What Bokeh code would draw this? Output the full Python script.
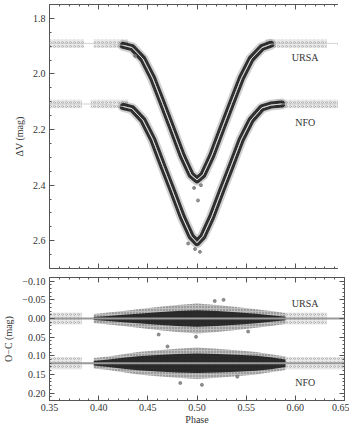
from bokeh.plotting import figure
from bokeh.layouts import column
from bokeh.models import (LinearAxis, FixedTicker, CustomJSTickFormatter, Label, Range1d,
                          CustomLabelingPolicy)
from bokeh.embed import file_html
from bokeh.resources import INLINE

# ---------------- data ----------------
phase_model = [0.350, 0.400, 0.414, 0.425, 0.434, 0.445, 0.455, 0.465, 0.475, 0.485,
               0.494, 0.500, 0.506, 0.515, 0.525, 0.535, 0.545, 0.555, 0.566, 0.575,
               0.586, 0.600, 0.650]
ursa_model = [1.890, 1.890, 1.893, 1.897, 1.905, 1.946, 2.016, 2.107, 2.200, 2.294,
              2.363, 2.381, 2.363, 2.294, 2.200, 2.107, 2.016, 1.946, 1.905, 1.893,
              1.890, 1.890, 1.890]
nfo_model = [2.108, 2.108, 2.112, 2.117, 2.125, 2.166, 2.236, 2.329, 2.420, 2.514,
             2.584, 2.607, 2.584, 2.514, 2.420, 2.329, 2.236, 2.166, 2.122, 2.112,
             2.108, 2.108, 2.108]
ursa_base = 1.891
nfo_base = 2.108
# dense-data index span along the model grid
ursa_dense = (3, 19)
nfo_dense = (3, 20)
# sparse (wing) data ranges in phase
ursa_wing_left = [0.350, 0.395, 0.570]
ursa_wing_right = [0.385, 0.430, 0.632]
nfo_wing_left = [0.350, 0.392, 0.580]
nfo_wing_right = [0.383, 0.430, 0.650]
# a few obvious outliers
ursa_out_x = [0.497, 0.501, 0.504, 0.437, 0.645]
ursa_out_y = [2.410, 2.455, 2.400, 1.935, 1.895]
nfo_out_x = [0.498, 0.503, 0.491]
nfo_out_y = [2.630, 2.640, 2.610]

# residuals (O-C) envelopes
res_phase = [0.395, 0.410, 0.425, 0.440, 0.460, 0.480, 0.500, 0.520, 0.540, 0.560, 0.575, 0.590]
ursa_core = [0.004, 0.007, 0.010, 0.013, 0.017, 0.020, 0.022, 0.020, 0.017, 0.013, 0.009, 0.005]
ursa_halo = [0.012, 0.016, 0.020, 0.025, 0.031, 0.036, 0.040, 0.036, 0.031, 0.025, 0.020, 0.015]
nfo_core = [0.006, 0.010, 0.015, 0.019, 0.022, 0.025, 0.026, 0.025, 0.023, 0.020, 0.016, 0.010]
nfo_halo = [0.014, 0.018, 0.024, 0.030, 0.035, 0.039, 0.042, 0.039, 0.035, 0.030, 0.024, 0.018]
ursa_res_base = 0.0
nfo_res_base = 0.12
res_ursa_wing_left = [0.350, 0.590]
res_ursa_wing_right = [0.383, 0.632]
res_nfo_wing_left = [0.350, 0.590]
res_nfo_wing_right = [0.383, 0.650]
res_out_x = [0.499, 0.461, 0.483, 0.552, 0.518, 0.541, 0.505, 0.470, 0.527]
res_out_y = [0.049, 0.043, 0.173, 0.035, -0.047, 0.156, 0.178, 0.075, -0.050]

x_major = [0.35, 0.40, 0.45, 0.50, 0.55, 0.60, 0.65]
x_minor = [round(0.35 + 0.01 * i, 2) for i in range(31)]
top_y_major = [1.8, 2.0, 2.2, 2.4, 2.6]
top_y_minor = [round(1.75 + 0.05 * i, 2) for i in range(20)]
bot_y_major = [-0.10, -0.05, 0.00, 0.05, 0.10, 0.15, 0.20]
bot_y_minor = [round(-0.11 + 0.01 * i, 2) for i in range(34)]

FONT = "Liberation Serif"
FS = "10px"
FRAME = "#555555"


def fmt(dec):
    return CustomJSTickFormatter(code=f"""
        const s = Math.abs(tick).toFixed({dec});
        return (tick < -1e-9 ? '\\u2212' : '') + s;""")


def no_labels():
    return CustomLabelingPolicy(code="""
        for (const i of indices) { indices.unset(i) }
        return indices""")


def style_axes(p, xticks, xminor, yticks, yminor, ydec, show_x):
    p.add_layout(LinearAxis(), "above")
    p.add_layout(LinearAxis(), "right")
    for ax in p.below + p.above:
        ax.ticker = FixedTicker(ticks=xticks, minor_ticks=xminor)
    for ax in p.left + p.right:
        ax.ticker = FixedTicker(ticks=yticks, minor_ticks=yminor)
    for ax in p.below + p.above + p.left + p.right:
        ax.axis_line_color = None
        ax.major_tick_in = 5
        ax.major_tick_out = 0
        ax.minor_tick_in = 2
        ax.minor_tick_out = 0
        ax.major_tick_line_color = FRAME
        ax.minor_tick_line_color = FRAME
        ax.major_label_text_font = FONT
        ax.major_label_text_font_size = FS
        ax.major_label_text_color = "#333333"
        ax.axis_label_text_font = FONT
        ax.axis_label_text_font_size = FS
        ax.axis_label_text_font_style = "normal"
        ax.axis_label_text_color = "#333333"
    p.left[0].formatter = fmt(ydec)
    p.left[0].major_label_standoff = 4
    p.below[0].formatter = fmt(2)
    p.below[0].major_label_standoff = 3
    hidden = [p.above[0], p.right[0]]
    if not show_x:
        hidden.append(p.below[0])
    for ax in hidden:
        ax.major_label_policy = no_labels()
        ax.major_label_text_font_size = "1px"
        ax.major_label_standoff = 0
    p.grid.visible = False
    p.outline_line_color = FRAME
    p.outline_line_width = 1
    p.background_fill_color = "white"
    p.border_fill_color = "white"


def wings(p, wl, wr, base, half):
    p.quad(left=wl, right=wr, bottom=[base + half] * len(wl), top=[base - half] * len(wl),
           fill_color="#b4b4b4", fill_alpha=0.3, line_color=None,
           hatch_pattern="ring", hatch_color="#9a9a9a", hatch_scale=4, hatch_weight=0.9,
           hatch_alpha=0.6)


# ---------------- top panel ----------------
top = figure(frame_width=295, frame_height=264, output_backend="svg", toolbar_location=None,
             x_range=Range1d(0.35, 0.65), y_range=Range1d(2.70, 1.75),
             min_border_left=39, min_border_right=3, min_border_top=0, min_border_bottom=0)
style_axes(top, x_major, x_minor, top_y_major, top_y_minor, 1, False)
top.left[0].axis_label = "\u0394V (mag)"

wings(top, ursa_wing_left, ursa_wing_right, ursa_base, 0.015)
wings(top, nfo_wing_left, nfo_wing_right, nfo_base, 0.015)

for model, (i0, i1) in [(ursa_model, ursa_dense), (nfo_model, nfo_dense)]:
    xs = phase_model[i0:i1 + 1]
    ys = model[i0:i1 + 1]
    top.line(xs, ys, line_width=11, line_color="#666666", line_alpha=0.3,
             line_join="round", line_cap="round")
    top.line(xs, ys, line_width=7, line_color="#1e1e1e", line_alpha=0.9,
             line_join="round", line_cap="round")

top.line(phase_model, ursa_model, line_width=0.8, line_color="#c8c8c8", line_join="round")
top.line(phase_model, nfo_model, line_width=0.8, line_color="#c8c8c8", line_join="round")
top.line(phase_model[ursa_dense[0]:ursa_dense[1] + 1], ursa_model[ursa_dense[0]:ursa_dense[1] + 1],
         line_width=0.9, line_color="#e0e0e0", line_join="round")
top.line(phase_model[nfo_dense[0]:nfo_dense[1] + 1], nfo_model[nfo_dense[0]:nfo_dense[1] + 1],
         line_width=0.9, line_color="#e0e0e0", line_join="round")

top.scatter(ursa_out_x, ursa_out_y, size=3, color="#777777", alpha=0.8)
top.scatter(nfo_out_x, nfo_out_y, size=3, color="#777777", alpha=0.8)

for txt, xv, yv in [("URSA", 0.610, 1.940), ("NFO", 0.610, 2.173)]:
    top.add_layout(Label(x=xv, y=yv, text=txt, text_align="center", text_baseline="middle",
                         text_font=FONT, text_font_size=FS, text_color="#333333"))

# ---------------- bottom panel ----------------
bot = figure(frame_width=295, frame_height=123, output_backend="svg", toolbar_location=None,
             x_range=Range1d(0.35, 0.65), y_range=Range1d(0.22, -0.11),
             min_border_left=39, min_border_right=3, min_border_top=5, min_border_bottom=0)
style_axes(bot, x_major, x_minor, bot_y_major, bot_y_minor, 2, True)
bot.left[0].axis_label = "O\u2212C (mag)"
bot.below[0].axis_label = "Phase"
bot.below[0].axis_label_standoff = 0

wings(bot, res_ursa_wing_left, res_ursa_wing_right, ursa_res_base, 0.016)
wings(bot, res_nfo_wing_left, res_nfo_wing_right, nfo_res_base, 0.016)

for base, core, halo in [(ursa_res_base, ursa_core, ursa_halo), (nfo_res_base, nfo_core, nfo_halo)]:
    bot.varea(x=res_phase, y1=[base - h for h in halo], y2=[base + h for h in halo],
              fill_color="#6e6e6e", fill_alpha=0.45,
              hatch_pattern="dot", hatch_color="#2e2e2e", hatch_scale=3, hatch_weight=1.0,
              hatch_alpha=0.6)
    bot.varea(x=res_phase, y1=[base - c for c in core], y2=[base + c for c in core],
              fill_color="#1c1c1c", fill_alpha=0.9)

bot.line([0.35, 0.65], [ursa_res_base, ursa_res_base], line_width=2, line_color="#9a9a9a")
bot.line([0.35, 0.65], [nfo_res_base, nfo_res_base], line_width=2, line_color="#9a9a9a")
bot.scatter(res_out_x, res_out_y, size=3, color="#777777", alpha=0.8)

for txt, xv, yv in [("URSA", 0.610, -0.039), ("NFO", 0.610, 0.171)]:
    bot.add_layout(Label(x=xv, y=yv, text=txt, text_align="center", text_baseline="middle",
                         text_font=FONT, text_font_size=FS, text_color="#333333"))

layout = column(top, bot, spacing=0)
open("out.html", "w").write(file_html(layout, INLINE))
